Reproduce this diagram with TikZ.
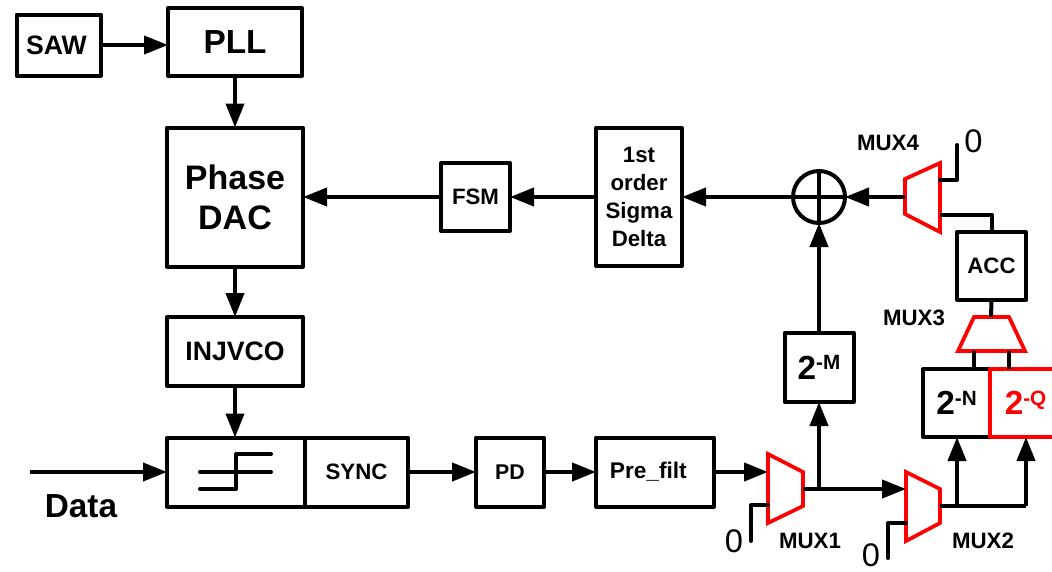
\documentclass[tikz,border=0pt]{standalone}
\usepackage{fontspec}
\setmainfont{Liberation Sans}
\usetikzlibrary{arrows.meta,calc}
\definecolor{muxred}{RGB}{255,0,0}
\newcommand{\fs}[1]{\fontsize{#1}{#1}\selectfont\bfseries}
\newcommand{\fsl}[2]{\fontsize{#1}{#2}\selectfont\bfseries}
\newcommand{\powtwo}[1]{{\fs{25}2\raisebox{7pt}{\fs{15.5}-#1}}}
\tikzset{
  px/.style={x=0.75pt,y=-0.75pt},
  box/.style={draw=black,line width=3pt,line join=round,inner sep=0pt,outer sep=0pt,align=center},
  dims/.style 2 args={minimum width={#1*0.75pt},minimum height={#2*0.75pt}},
  conn/.style={line width=3pt,line join=round,draw=black},
  arr/.style={conn,-{Triangle[length=18pt,width=13.5pt]}},
  mux/.style={draw=muxred,line width=2.8pt,line join=miter},
  lab/.style={inner sep=0pt,outer sep=0pt,font=\fs{16.7}},
  zero/.style={inner sep=0pt,outer sep=0pt,font=\fontsize{24.5}{25}\selectfont},
}
\begin{document}
\begin{tikzpicture}[px]
\useasboundingbox (0,0) rectangle (1052,571);
% boxes
\node[box,dims={84}{61},font=\fs{20}] (saw) at (58.5,45) {\mbox{SAW\kern3pt}};
\node[box,dims={134}{68},font=\fs{25}] (pll) at (235,42) {PLL};
\node[box,dims={136}{139},font=\fsl{25.5}{30}] (dac) at (235,197) {Phase\\DAC};
\node[box,dims={136}{69},font=\fs{20}] (inj) at (235,351.5) {INJVCO};
\node[box,dims={138}{69}] (cmp) at (236,472) {};
\node[box,dims={103}{69},font=\fs{16.7}] (sync) at (356.5,472) {SYNC};
\node[box,dims={68}{69},font=\fs{16}] (pd) at (510,472) {PD};
\node[box,dims={118}{69},font=\fs{17}] (pre) at (655,472) {\mbox{Pre\_filt\kern10pt}};
\node[box,dims={69}{68},font=\fs{16.7}] (fsm) at (475.5,197) {FSM};
\node[box,dims={86}{138},font=\fsl{16.7}{21}] (sd) at (639,197) {1st\\order\\Sigma\\Delta};
\node[box,dims={69}{69}] (pm) at (819,367.5) {\powtwo{M}};
\node[box,dims={69}{68},font=\fs{16.7}] (acc) at (991.5,266) {ACC};
\node[box,dims={67}{68}] (pn) at (956.5,403) {\powtwo{N}};
\begin{scope}
\clip (0,0) rectangle (1052,571);
\node[box,draw=muxred,text=muxred,dims={71}{68}] (pq) at (1025.5,403) {\powtwo{Q}};
\end{scope}
% adder
\node[draw=black,circle,line width=3pt,minimum size={52*0.75pt},inner sep=0pt,outer sep=0pt] (add) at (819,197) {};
\draw[conn] (add.north) -- (add.south);
\draw[conn] (add.west) -- (add.east);
% muxes
\coordinate (m1a) at (768,472); \coordinate (m1b) at (768,505); \coordinate (m1o) at (803,489);
\coordinate (m2a) at (906,489); \coordinate (m2b) at (906,523); \coordinate (m2o) at (940,505.5);
\coordinate (m3a) at (974,351); \coordinate (m3b) at (1009,351); \coordinate (m3o) at (991,317);
\coordinate (m4a) at (940,180); \coordinate (m4b) at (940,214.5); \coordinate (m4o) at (905,197);
\draw[mux] (768,454) -- (803,472) -- (803,506) -- (768,523) -- cycle;
\draw[mux] (906,472) -- (940,489) -- (940,523) -- (906,541) -- cycle;
\draw[mux] (974,317) -- (1009,317) -- (1025,351) -- (958,351) -- cycle;
\draw[mux] (905,179) -- (940,163) -- (940,232) -- (905,214) -- cycle;
% free ends
\coordinate (j1) at (819,489);
\coordinate (j2) at (957,505.5);
\coordinate (j3) at (1026,505.5);
\coordinate (z1) at (751,541);
\coordinate (z2) at (888,558);
\coordinate (z4) at (957,145);
\coordinate (din) at (30,472);
% arrows
\draw[arr] (saw.east) -- (saw.east -| pll.west);
\draw[arr] (pll.south) -- (dac.north);
\draw[arr] (dac.south) -- (inj.north);
\draw[arr] (inj.south) -- (inj.south |- cmp.north);
\draw[arr] (din) -- (din -| cmp.west);
\draw[arr] (sync.east) -- (pd.west);
\draw[arr] (pd.east) -- (pre.west);
\draw[arr] (pre.east) -- (m1a);
\draw[arr] (m1o) -- (m2a);
\draw[arr] (j1) -- (pm.south);
\draw[arr] (pm.north) -- (add.south);
\draw[arr] (m4o) -- (add.east);
\draw[arr] (add.west) -- (sd.east);
\draw[arr] (sd.west) -- (fsm.east);
\draw[arr] (fsm.west) -- (dac.east);
\draw[conn] (m2o) -- (j3);
\draw[arr] (j2) -- (j2 |- pn.south);
\draw[arr] (j3) -- (j3 |- pq.south);
% plain connectors
\draw[conn,line cap=round] (m1b) -| (z1);
\draw[conn,line cap=round] (m2b) -| (z2);
\draw[conn,line cap=round] (m4a) -| (z4);
\draw[conn] (m4b) -| (acc.north);
\draw[conn] (acc.south) -- (m3o);
\draw[conn] (m3a) -- (m3a |- pn.north);
\draw[conn] (m3b) -- (m3b |- pq.north);
% comparator symbol
\coordinate (c1) at (200,489); \coordinate (c2) at (271,454);
\coordinate (c3) at (200,472); \coordinate (c4) at (271,472);
\draw[conn,line cap=round] (c1) -- ($(c1)+(36,0)$) -- ($(c2)+(-35,0)$) -- (c2);
\draw[conn,line cap=round] (c3) -- (c4);
% labels
\node[inner sep=0pt,font=\fs{25}] (data) at (81,506) {Data};
\node[lab] (l4) at (888,143) {MUX4};
\node[lab] (l3) at (914,318) {MUX3};
\node[lab] (l1) at (810,541) {MUX1};
\node[lab] (l2) at (983,541) {MUX2};
\node[zero] (t1) at (734,541.5) {0};
\node[zero] (t2) at (871,555) {0};
\node[zero] (t4) at (973.5,141.5) {0};
\end{tikzpicture}
\end{document}
